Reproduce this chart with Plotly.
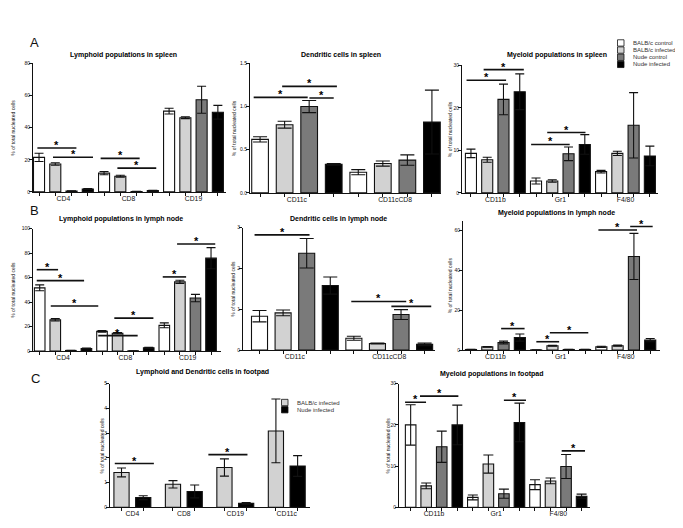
import plotly.graph_objects as go

W, H = 683, 528
FONT = "Liberation Sans, Arial, sans-serif"

series_names = ["BALB/c control", "BALB/c infected", "Nude control", "Nude infected"]
series_colors = ["#ffffff", "#d2d2d2", "#7a7a7a", "#000000"]
footpad_series = ["BALB/c infected", "Nude infected"]

# ---------------- A: spleen ----------------
spleen_lymph_cats = ["CD4", "CD8", "CD19"]
spleen_lymph_mean = [[21.5, 17.4, 0.6, 1.8], [11.7, 9.8, 0.3, 0.8], [50.3, 46.2, 57.4, 49.6]]
spleen_lymph_err = [[2.6, 0.8, 0.1, 0.3], [1.0, 0.6, 0.1, 0.2], [1.8, 0.6, 8.4, 4.3]]
spleen_lymph_sig = [(-0.1, 2.3, 27.3), (0.86, 3.32, 21.6), (3.79, 6.19, 20.9), (4.82, 7.21, 14.8)]

spleen_dc_cats = ["CD11c", "CD11cCD8"]
spleen_dc_mean = [[0.62, 0.79, 1.0, 0.33], [0.24, 0.34, 0.38, 0.82]]
spleen_dc_err = [[0.03, 0.04, 0.07, 0.01], [0.03, 0.03, 0.06, 0.37]]
spleen_dc_sig = [(-0.26, 1.94, 1.107), (0.9, 3.13, 1.234), (2.01, 3.0, 1.10)]

spleen_mye_cats = ["CD11b", "Gr1", "F4/80"]
spleen_mye_mean = [[9.3, 7.8, 22.0, 23.8], [2.8, 2.8, 9.2, 11.4], [5.0, 9.3, 15.9, 8.7]]
spleen_mye_err = [[1.0, 0.6, 3.6, 4.2], [0.7, 0.3, 1.6, 2.3], [0.3, 0.5, 7.7, 2.3]]
spleen_mye_sig = [(-0.27, 2.16, 26.5), (0.78, 3.25, 29.0), (3.7, 6.07, 11.4), (4.69, 7.04, 14.2)]

# ---------------- B: lymph node ----------------
ln_lymph_cats = ["CD4", "CD8", "CD19"]
ln_lymph_mean = [[51.6, 25.5, 0.5, 2.1], [16.1, 14.5, 0.2, 2.7], [21.0, 56.5, 43.3, 75.8]]
ln_lymph_err = [[2.4, 1.0, 0.1, 0.4], [0.6, 0.6, 0.1, 0.4], [2.0, 1.3, 3.0, 8.6]]
ln_lymph_sig = [(-0.19, 1.18, 66.4), (-0.19, 2.85, 57.5), (0.71, 3.76, 36.8),
                (3.76, 6.29, 12.6), (4.79, 7.3, 26.9), (7.9, 9.4, 60.5), (8.82, 11.27, 87.4)]

ln_dc_cats = ["CD11c", "CD11cCD8"]
ln_dc_mean = [[0.83, 0.91, 2.37, 1.58], [0.29, 0.16, 0.87, 0.14]]
ln_dc_err = [[0.14, 0.07, 0.36, 0.21], [0.05, 0.01, 0.12, 0.03]]
ln_dc_sig = [(-0.21, 2.12, 2.82), (3.89, 6.22, 1.19), (5.59, 7.28, 1.07)]

ln_mye_cats = ["CD11b", "Gr1", "F4/80"]
ln_mye_mean = [[0.3, 1.6, 3.8, 6.3], [0.1, 2.2, 0.3, 0.3], [1.6, 2.2, 47.0, 5.0]]
ln_mye_err = [[0.05, 0.2, 0.7, 1.8], [0.05, 0.2, 0.05, 0.05], [0.3, 0.3, 11.6, 0.8]]
ln_mye_sig = [(1.85, 3.29, 10.8), (4.01, 5.41, 4.2), (4.84, 7.2, 8.7), (7.82, 10.19, 60.3), (9.77, 11.15, 62.0)]

# ---------------- C: footpad ----------------
fp_ld_cats = ["CD4", "CD8", "CD19", "CD11c"]
fp_ld_mean = [[1.41, 0.39], [0.93, 0.64], [1.61, 0.16], [3.09, 1.67]]
fp_ld_err = [[0.18, 0.08], [0.15, 0.26], [0.35, 0.03], [1.29, 0.42]]
fp_ld_sig = [(-0.31, 1.49, 1.77), (4.0, 5.8, 2.13)]

fp_mye_cats = ["CD11b", "Gr1", "F4/80"]
fp_mye_mean = [[20.0, 5.2, 14.7, 20.0], [2.4, 10.5, 3.3, 20.6], [5.5, 6.4, 9.9, 2.7]]
fp_mye_err = [[4.9, 0.7, 3.8, 4.8], [0.6, 2.2, 1.1, 4.7], [1.2, 0.7, 2.9, 0.5]]
fp_mye_sig = [(-0.36, 0.99, 25.5), (0.6, 3.07, 27.0), (6.0, 7.42, 26.0), (9.72, 11.22, 13.7)]

panels = [
    dict(title="Lymphoid populations in spleen", cats=spleen_lymph_cats, mean=spleen_lymph_mean,
         err=spleen_lymph_err, sig=spleen_lymph_sig, colors=[0, 1, 2, 3], gstep=4,
         px=(25, 218), py=(53, 183), xr=(-0.37, 11.5), ymax=80, dtick=20, fmt="d",
         cap=4.5, bw=0.68, tpos=(115, 44), ytx=5),
    dict(title="Dendritic cells in spleen", cats=spleen_dc_cats, mean=spleen_dc_mean,
         err=spleen_dc_err, sig=spleen_dc_sig, colors=[0, 1, 2, 3], gstep=4,
         px=(242, 433), py=(53, 184), xr=(-0.41, 7.37), ymax=1.5, dtick=0.5, fmt=".1f",
         cap=7, bw=0.68, tpos=(333, 44), ytx=226),
    dict(title="Myeloid populations in spleen", cats=spleen_mye_cats, mean=spleen_mye_mean,
         err=spleen_mye_err, sig=spleen_mye_sig, colors=[0, 1, 2, 3], gstep=4,
         px=(454, 650), py=(55, 184), xr=(-0.55, 11.5), ymax=30, dtick=10, fmt="d",
         cap=4.5, bw=0.68, tpos=(549, 44), ytx=442),
    dict(title="Lymphoid populations in lymph node", cats=ln_lymph_cats, mean=ln_lymph_mean,
         err=ln_lymph_err, sig=ln_lymph_sig, colors=[0, 1, 2, 3], gstep=4,
         px=(25, 213), py=(220, 344), xr=(-0.43, 11.64), ymax=100, dtick=20, fmt="d",
         cap=4.5, bw=0.68, tpos=(113, 210), ytx=5),
    dict(title="Dendritic cells in lymph node", cats=ln_dc_cats, mean=ln_dc_mean,
         err=ln_dc_err, sig=ln_dc_sig, colors=[0, 1, 2, 3], gstep=4,
         px=(235, 427), py=(219, 343), xr=(-0.7, 7.44), ymax=3, dtick=1, fmt="d",
         cap=7, bw=0.68, tpos=(330, 210), ytx=225),
    dict(title="Myeloid populations in lymph node", cats=ln_mye_cats, mean=ln_mye_mean,
         err=ln_mye_err, sig=ln_mye_sig, colors=[0, 1, 2, 3], gstep=4,
         px=(455, 652), py=(212, 343), xr=(-0.49, 11.6), ymax=65, dtick=20, fmt="d",
         cap=4.5, bw=0.68, tpos=(548, 204), ytx=442),
    dict(title="Lymphoid and Dendritic cells in footpad", cats=fp_ld_cats, mean=fp_ld_mean,
         err=fp_ld_err, sig=fp_ld_sig, colors=[1, 3], gstep=2.37,
         px=(102, 302), py=(377, 502), xr=(-0.53, 8.68), ymax=5, dtick=1, fmt="d",
         cap=4.5, bw=0.7, tpos=(194, 365), ytx=94),
    dict(title="Myeloid populations in footpad", cats=fp_mye_cats, mean=fp_mye_mean,
         err=fp_mye_err, sig=fp_mye_sig, colors=[0, 1, 2, 3], gstep=4,
         px=(391, 582), py=(377, 502), xr=(-0.75, 11.54), ymax=30, dtick=10, fmt="d",
         cap=5, bw=0.68, tpos=(483, 367), ytx=380),
]

fig = go.Figure()
annotations = []
shapes = []


def fx(px):
    return px / W


def fy(py):
    return 1 - py / H


for k, p in enumerate(panels):
    n = k + 1
    xa = "x" if n == 1 else f"x{n}"
    ya = "y" if n == 1 else f"y{n}"
    xkey = "xaxis" if n == 1 else f"xaxis{n}"
    ykey = "yaxis" if n == 1 else f"yaxis{n}"
    nser = len(p["colors"])
    ncat = len(p["cats"])
    allpos = []
    for s in range(nser):
        xs = [g * p["gstep"] + s for g in range(ncat)]
        allpos += xs
        fig.add_trace(go.Bar(
            x=xs, y=[p["mean"][g][s] for g in range(ncat)], width=p["bw"],
            marker=dict(color=series_colors[p["colors"][s]], line=dict(color="#111", width=1.1)),
            error_y=dict(type="data", array=[p["err"][g][s] for g in range(ncat)],
                         color="#111", thickness=1.1, width=p["cap"]),
            xaxis=xa, yaxis=ya, showlegend=False, hoverinfo="skip"))
    centers = [g * p["gstep"] + (nser - 1) / 2 for g in range(ncat)]
    fig.update_layout(**{
        xkey: dict(domain=[fx(p["px"][0]), fx(p["px"][1])], anchor=ya, range=list(p["xr"]),
                   showline=True, linecolor="#111", linewidth=1, showgrid=False, zeroline=False,
                   tickmode="array", tickvals=centers, ticktext=p["cats"], ticks="",
                   tickfont=dict(size=6.8, family=FONT, color="#111"),
                   minor=dict(tickmode="array", tickvals=sorted(allpos), ticks="outside",
                              ticklen=3, tickwidth=1, tickcolor="#111", showgrid=False),
                   fixedrange=True),
        ykey: dict(domain=[fy(p["py"][1]), fy(p["py"][0])], anchor=xa, range=[0, p["ymax"]],
                   showline=True, linecolor="#111", linewidth=1, showgrid=False, zeroline=False,
                   ticks="outside", ticklen=3, tickwidth=1, tickcolor="#111", dtick=p["dtick"],
                   tick0=0, tickformat=p["fmt"], tickfont=dict(size=5, family=FONT, color="#111"),
                   ticklabelstandoff=-2,
                   fixedrange=True),
    })
    annotations.append(dict(text="<b>" + p["title"] + "</b>", xref="paper", yref="paper",
                            x=fx(p["tpos"][0]), y=fy(p["tpos"][1]), showarrow=False,
                            xanchor="center", yanchor="middle",
                            font=dict(size=7, family=FONT, color="#000")))
    annotations.append(dict(text="% of total nucleated cells", xref="paper", yref="paper",
                            x=fx(p["ytx"]), y=fy((p["py"][0] + p["py"][1]) / 2), textangle=-90,
                            showarrow=False, xanchor="center", yanchor="middle",
                            font=dict(size=5, family=FONT, color="#111")))
    for (x0, x1, yv) in p["sig"]:
        shapes.append(dict(type="line", xref=xa, yref=ya, x0=x0, x1=x1, y0=yv, y1=yv,
                           line=dict(color="#111", width=1.6), layer="above"))
        annotations.append(dict(text="<b>*</b>", xref=xa, yref=ya, x=(x0 + x1) / 2, y=yv,
                                showarrow=False, xanchor="center", yanchor="bottom", yshift=-5,
                                font=dict(size=11, family=FONT, color="#000")))

# panel letters
for letter, (lx, ly) in zip(["A", "B", "C"], [(26, 32), (26, 202), (27, 372)]):
    annotations.append(dict(text=letter, xref="paper", yref="paper", x=fx(lx), y=fy(ly),
                            showarrow=False, xanchor="center", yanchor="middle",
                            font=dict(size=13, family=FONT, color="#111")))

# legends
legA_y = [32.3, 39.5, 46.8, 54]
for i, name in enumerate(series_names):
    cy = legA_y[i]
    shapes.append(dict(type="rect", xref="paper", yref="paper", x0=fx(609.5), x1=fx(616),
                       y0=fy(cy + 3.2), y1=fy(cy - 3.2), fillcolor=series_colors[i],
                       line=dict(color="#111", width=0.8)))
    annotations.append(dict(text=name, xref="paper", yref="paper", x=fx(623), y=fy(cy),
                            showarrow=False, xanchor="left", yanchor="middle",
                            font=dict(size=6, family=FONT, color="#333")))
legC_y = [396, 403.3]
for i, name in enumerate(footpad_series):
    cy = legC_y[i]
    shapes.append(dict(type="rect", xref="paper", yref="paper", x0=fx(273.5), x1=fx(280),
                       y0=fy(cy + 3.2), y1=fy(cy - 3.2), fillcolor=series_colors[[1, 3][i]],
                       line=dict(color="#111", width=0.8)))
    annotations.append(dict(text=name, xref="paper", yref="paper", x=fx(286.5), y=fy(cy),
                            showarrow=False, xanchor="left", yanchor="middle",
                            font=dict(size=6, family=FONT, color="#333")))

fig.update_layout(width=W, height=H, margin=dict(l=0, r=0, t=0, b=0),
                  paper_bgcolor="white", plot_bgcolor="white", barmode="overlay",
                  annotations=annotations, shapes=shapes, showlegend=False,
                  font=dict(family=FONT))
fig.write_html("out.html")
